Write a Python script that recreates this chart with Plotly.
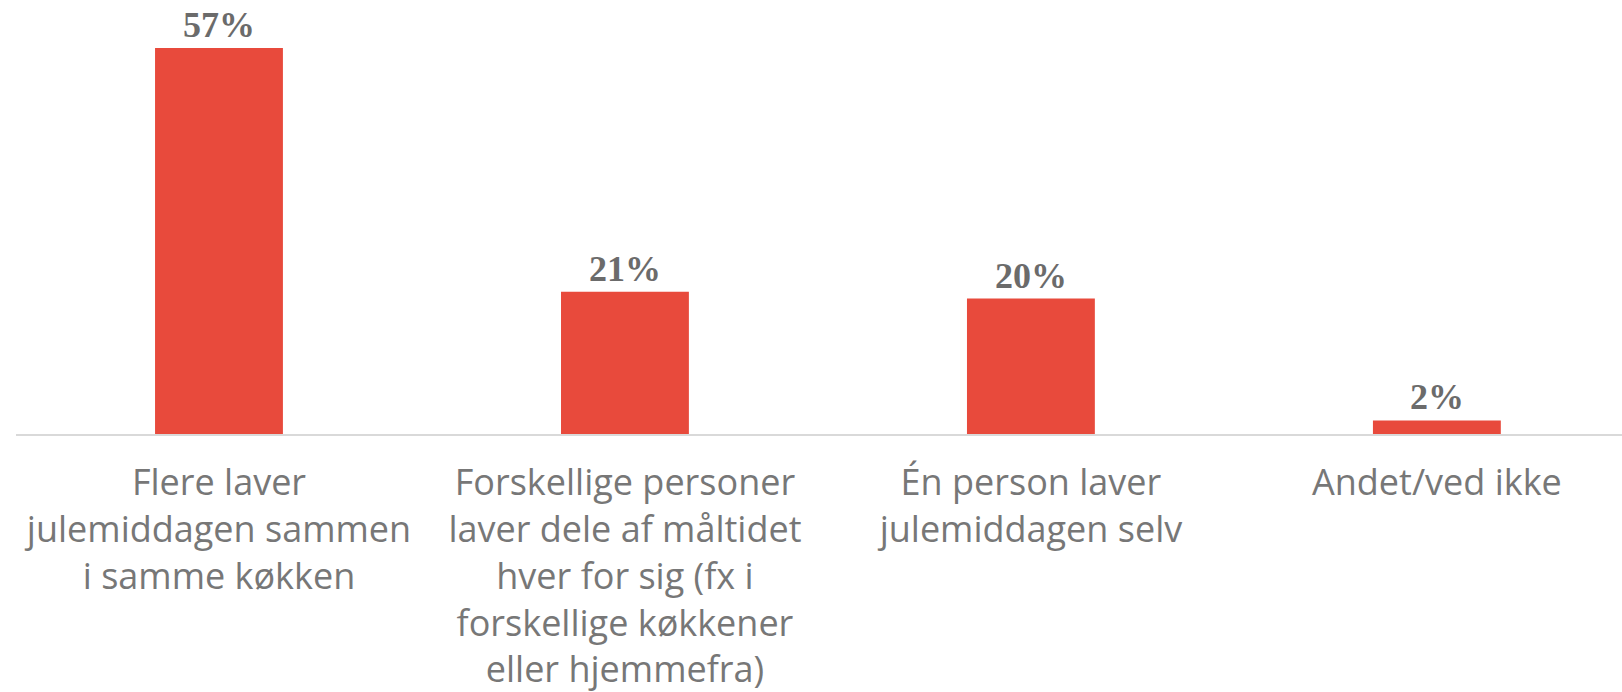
import plotly.graph_objects as go

categories = [
    "Flere laver<br>julemiddagen sammen<br>i samme køkken",
    "Forskellige personer<br>laver dele af måltidet<br>hver for sig (fx i<br>forskellige køkkener<br>eller hjemmefra)",
    "Én person laver<br>julemiddagen selv",
    "Andet/ved ikke",
]
values = [57, 21, 20, 2]

fig = go.Figure(
    go.Bar(
        x=categories,
        y=values,
        marker=dict(color="#E84A3C", line=dict(width=0)),
        width=0.315,
        text=[f"{v}%" for v in values],
        textposition="outside",
        cliponaxis=False,
        textfont=dict(family="Liberation Serif", size=36, color="#6B6B6B", weight="bold"),
    )
)

fig.update_layout(
    width=1622,
    height=692,
    margin=dict(l=16, r=0, t=8, b=258),
    paper_bgcolor="white",
    plot_bgcolor="white",
    showlegend=False,
    xaxis=dict(
        range=[-0.5, 3.456],
        showline=True,
        linecolor="#D9D9D9",
        linewidth=2,
        ticks="",
        showgrid=False,
        tickfont=dict(family="Open Sans", size=36, color="#777777"),
        ticklabelstandoff=16,
        automargin=False,
    ),
    yaxis=dict(
        range=[0, 62.9],
        visible=False,
        showgrid=False,
        zeroline=False,
    ),
)

fig.write_html(
    "out.html",
    config={"displayModeBar": False},
    post_script="document.body.style.margin='0';document.body.style.overflow='hidden';",
)
